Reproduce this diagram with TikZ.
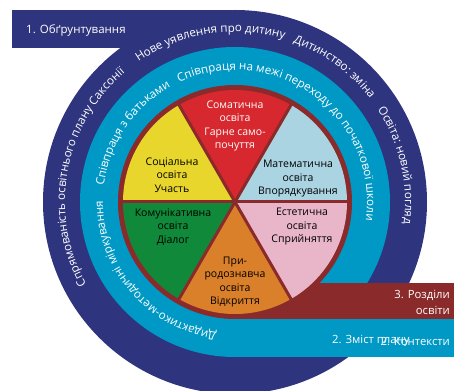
\documentclass[tikz,border=0pt]{standalone}
\usepackage{fontspec}
\setmainfont{Open Sans}
\usepackage{tikz}
\usetikzlibrary{decorations.text}
\definecolor{navy}{RGB}{46,52,126}
\definecolor{ringteal}{RGB}{0,152,196}
\definecolor{rim}{RGB}{138,42,42}
\definecolor{somared}{RGB}{214,40,46}
\definecolor{socyellow}{RGB}{232,214,44}
\definecolor{mathblue}{RGB}{170,212,226}
\definecolor{comgreen}{RGB}{16,138,58}
\definecolor{estpink}{RGB}{232,182,200}
\definecolor{natorange}{RGB}{219,128,42}
\newcommand{\ringfont}{\fontsize{11.6}{13}\selectfont}
\pgfdeclarelayer{ringlayer}
\pgfdeclarelayer{pielayer}
\pgfsetlayers{ringlayer,pielayer,main}
\tikzstyle{sector}=[align=center,inner sep=0pt,text=black,font=\fontsize{10.5}{13.5}\selectfont]
\tikzstyle{barlabel}=[inner sep=0pt,text=white,font=\fontsize{11.3}{16}\selectfont]
\tikzstyle{headlabel}=[inner sep=0pt,text=white,font=\fontsize{11.5}{14}\selectfont]
\tikzstyle{ringtext}=[decorate,decoration={text along path,text color=white}]
\tikzstyle{divider}=[-,draw=rim,line width=3.000]
\begin{document}
\begin{tikzpicture}[x=1pt,y=1pt]
	\useasboundingbox (-235,-188) rectangle (219,202);
	\begin{pgfonlayer}{ringlayer}
		\fill [navy] (-223,154) rectangle (0,192);
		\fill [navy] (0,0) circle [radius=192];
		\fill [ringteal] (0,-117) rectangle (219,-155);
		\fill [ringteal] (0,0) circle [radius=155];
		\fill [rim] (0,-81) rectangle (219,-117);
	\end{pgfonlayer}
	\begin{pgfonlayer}{pielayer}
		\fill [rim] (0,0) circle [radius=117];
		\fill [mathblue] (0,0) -- (0:112) arc [start angle=0, end angle=60, radius=112] -- cycle;
		\fill [somared] (0,0) -- (60:112) arc [start angle=60, end angle=120, radius=112] -- cycle;
		\fill [socyellow] (0,0) -- (120:112) arc [start angle=120, end angle=180, radius=112] -- cycle;
		\fill [comgreen] (0,0) -- (180:112) arc [start angle=180, end angle=240, radius=112] -- cycle;
		\fill [natorange] (0,0) -- (240:112) arc [start angle=240, end angle=300, radius=112] -- cycle;
		\fill [estpink] (0,0) -- (300:112) arc [start angle=300, end angle=360, radius=112] -- cycle;
		\draw [style=divider] (0:114) -- (180:114);
		\draw [style=divider] (60:114) -- (240:114);
		\draw [style=divider] (120:114) -- (300:114);
	\end{pgfonlayer}

	% outer ring
	\path [style=ringtext,decoration={text={|\ringfont|Спрямованість освітнього плану Саксонії}}] (209:170) arc [start angle=209, end angle=110, radius=170];
	\path [style=ringtext,decoration={text={|\ringfont|Нове уявлення про дитину}}] (124.5:170) arc [start angle=124.5, end angle=55, radius=170];
	\path [style=ringtext,decoration={text={|\ringfont|Дитинство: зміна}}] (70:170) arc [start angle=70, end angle=15, radius=170];
	\path [style=ringtext,decoration={text={|\ringfont|Освіта: новий погляд}}] (33:170) arc [start angle=33, end angle=-45, radius=170];

	% middle ring
	\path [style=ringtext,decoration={text={|\ringfont|Дидактико-методичні міркування}}] (262:132) arc [start angle=262, end angle=150, radius=132];
	\path [style=ringtext,decoration={text={|\ringfont|Співпраця з батьками}}] (173:132) arc [start angle=173, end angle=100, radius=132];
	\path [style=ringtext,decoration={text={|\ringfont|Співпраця на межі переходу до початкової школи}}] (115:132) arc [start angle=115, end angle=-45, radius=132];

	\node [style=headlabel,anchor=west] (found) at (-209,172) {1. Обґрунтування};
	\node [style=barlabel,anchor=east,align=right] (areas) at (215,-100) {3. Розділи\\освіти};
	\node [style=barlabel,anchor=west] (plan) at (97,-139) {2. Зміст плану};
	\node [style=barlabel,anchor=east] (context) at (215,-139) {2. Контексти};

	\node [style=sector,text=white] (soma) at (0,76) {Соматична\\освіта\\Гарне само-\\почуття};
	\node [style=sector] (social) at (-63,27) {Соціальна\\освіта\\Участь};
	\node [style=sector] (maths) at (63,23) {Математична\\освіта\\Впорядкування};
	\node [style=sector] (comm) at (-62,-25) {Комунікативна\\освіта\\Діалог};
	\node [style=sector] (aesth) at (67,-25) {Естетична\\освіта\\Сприйняття};
	\node [style=sector] (nature) at (0,-80) {При-\\родознавча\\освіта\\Відкриття};
\end{tikzpicture}
\end{document}
